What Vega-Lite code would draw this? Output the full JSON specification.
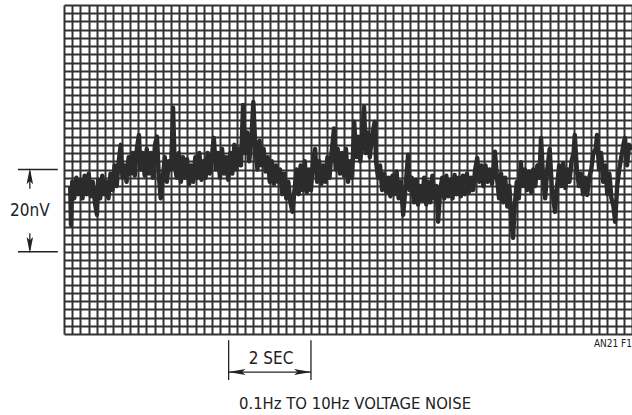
{
  "$schema": "https://vega.github.io/schema/vega-lite/v6.json",
  "width": 568,
  "height": 329,
  "autosize": "none",
  "padding": {"left": 64, "top": 5, "right": 0, "bottom": 81},
  "background": "white",
  "config": {"view": {"stroke": null}},
  "datasets": {
    "trace": [
      {"t":0.15,"v":36},{"t":0.17,"v":26.5},{"t":0.2,"v":37},{"t":0.25,"v":33},{"t":0.3,"v":38},{"t":0.35,"v":34},{"t":0.4,"v":37.5},{"t":0.45,"v":33},{"t":0.5,"v":38.5},{"t":0.55,"v":34},{"t":0.6,"v":39},{"t":0.65,"v":33.5},{"t":0.7,"v":37},{"t":0.75,"v":32},{"t":0.8,"v":29},{"t":0.83,"v":37.5},{"t":0.88,"v":33},{"t":0.93,"v":38.5},{"t":0.98,"v":34},{"t":1.03,"v":37},{"t":1.08,"v":33},{"t":1.13,"v":39},{"t":1.18,"v":35},{"t":1.23,"v":41},{"t":1.28,"v":36},{"t":1.33,"v":42},{"t":1.38,"v":46},{"t":1.42,"v":38},{"t":1.47,"v":41},{"t":1.52,"v":37},{"t":1.57,"v":43},{"t":1.62,"v":39},{"t":1.67,"v":44},{"t":1.72,"v":38.5},{"t":1.77,"v":45},{"t":1.82,"v":48.4},{"t":1.86,"v":40},{"t":1.91,"v":44},{"t":1.96,"v":38.5},{"t":2.01,"v":45},{"t":2.06,"v":39},{"t":2.11,"v":44},{"t":2.16,"v":38},{"t":2.21,"v":46},{"t":2.26,"v":48},{"t":2.3,"v":39},{"t":2.35,"v":33},{"t":2.4,"v":38},{"t":2.45,"v":43},{"t":2.5,"v":37},{"t":2.55,"v":42},{"t":2.6,"v":40},{"t":2.65,"v":55},{"t":2.69,"v":41},{"t":2.74,"v":38},{"t":2.79,"v":44},{"t":2.84,"v":37},{"t":2.89,"v":43},{"t":2.94,"v":38},{"t":2.99,"v":42.5},{"t":3.04,"v":36.5},{"t":3.09,"v":41},{"t":3.14,"v":37},{"t":3.19,"v":43},{"t":3.24,"v":38},{"t":3.29,"v":44},{"t":3.34,"v":37.5},{"t":3.39,"v":42},{"t":3.44,"v":38},{"t":3.49,"v":44},{"t":3.54,"v":39},{"t":3.59,"v":43},{"t":3.64,"v":47.7},{"t":3.69,"v":40},{"t":3.74,"v":44},{"t":3.79,"v":38},{"t":3.84,"v":45},{"t":3.89,"v":39},{"t":3.94,"v":43},{"t":3.99,"v":37.5},{"t":4.04,"v":44},{"t":4.09,"v":39},{"t":4.14,"v":46},{"t":4.19,"v":40},{"t":4.24,"v":45},{"t":4.3,"v":41},{"t":4.35,"v":55.7},{"t":4.4,"v":44},{"t":4.45,"v":49},{"t":4.5,"v":42},{"t":4.55,"v":47},{"t":4.6,"v":56.4},{"t":4.65,"v":45},{"t":4.7,"v":40},{"t":4.75,"v":47},{"t":4.8,"v":41},{"t":4.85,"v":45},{"t":4.9,"v":39.5},{"t":4.95,"v":43},{"t":5.0,"v":37},{"t":5.05,"v":42},{"t":5.1,"v":36.5},{"t":5.15,"v":41},{"t":5.2,"v":37},{"t":5.25,"v":40},{"t":5.3,"v":34},{"t":5.35,"v":39},{"t":5.4,"v":33},{"t":5.45,"v":37},{"t":5.5,"v":32},{"t":5.55,"v":29.7},{"t":5.6,"v":35},{"t":5.65,"v":40},{"t":5.7,"v":34},{"t":5.75,"v":41},{"t":5.8,"v":35},{"t":5.85,"v":42},{"t":5.9,"v":34.5},{"t":5.95,"v":40},{"t":6.0,"v":35},{"t":6.05,"v":42},{"t":6.1,"v":45},{"t":6.15,"v":37},{"t":6.2,"v":42},{"t":6.25,"v":36.5},{"t":6.3,"v":41},{"t":6.35,"v":37},{"t":6.4,"v":43},{"t":6.45,"v":38},{"t":6.5,"v":44},{"t":6.56,"v":50},{"t":6.6,"v":40},{"t":6.65,"v":45},{"t":6.7,"v":39},{"t":6.75,"v":44},{"t":6.8,"v":38.5},{"t":6.85,"v":45},{"t":6.9,"v":37},{"t":6.95,"v":42},{"t":7.0,"v":38},{"t":7.05,"v":51.6},{"t":7.1,"v":43},{"t":7.15,"v":48},{"t":7.2,"v":42},{"t":7.25,"v":49},{"t":7.29,"v":55.2},{"t":7.33,"v":44},{"t":7.38,"v":49},{"t":7.43,"v":43},{"t":7.48,"v":48},{"t":7.55,"v":51.6},{"t":7.58,"v":42},{"t":7.63,"v":38},{"t":7.68,"v":41},{"t":7.73,"v":35},{"t":7.78,"v":39},{"t":7.83,"v":34.5},{"t":7.88,"v":38},{"t":7.93,"v":33.5},{"t":7.98,"v":38.5},{"t":8.03,"v":34},{"t":8.08,"v":39.5},{"t":8.13,"v":33},{"t":8.18,"v":37},{"t":8.24,"v":29},{"t":8.3,"v":36},{"t":8.36,"v":43.6},{"t":8.4,"v":35},{"t":8.45,"v":38},{"t":8.5,"v":32},{"t":8.55,"v":37.5},{"t":8.6,"v":31.5},{"t":8.65,"v":36},{"t":8.7,"v":32.5},{"t":8.75,"v":38},{"t":8.8,"v":31.5},{"t":8.85,"v":37},{"t":8.9,"v":32},{"t":8.95,"v":38.5},{"t":9.0,"v":33},{"t":9.05,"v":36},{"t":9.09,"v":27.3},{"t":9.14,"v":35},{"t":9.19,"v":38},{"t":9.24,"v":33},{"t":9.29,"v":38.5},{"t":9.34,"v":33.5},{"t":9.39,"v":37.5},{"t":9.44,"v":33},{"t":9.49,"v":38.7},{"t":9.54,"v":34},{"t":9.59,"v":38},{"t":9.64,"v":33.5},{"t":9.69,"v":38.5},{"t":9.74,"v":34},{"t":9.79,"v":39},{"t":9.84,"v":34.5},{"t":9.89,"v":38},{"t":9.94,"v":35},{"t":9.99,"v":40},{"t":10.04,"v":42.8},{"t":10.09,"v":37},{"t":10.14,"v":41},{"t":10.19,"v":36},{"t":10.24,"v":41},{"t":10.29,"v":37},{"t":10.34,"v":40},{"t":10.4,"v":36.5},{"t":10.47,"v":44.3},{"t":10.52,"v":38},{"t":10.57,"v":33},{"t":10.62,"v":39},{"t":10.67,"v":32},{"t":10.72,"v":38},{"t":10.77,"v":31},{"t":10.82,"v":36},{"t":10.87,"v":27},{"t":10.91,"v":23.4},{"t":10.95,"v":31},{"t":11.0,"v":37},{"t":11.05,"v":33},{"t":11.1,"v":41.8},{"t":11.15,"v":36},{"t":11.2,"v":40},{"t":11.25,"v":35},{"t":11.3,"v":39.5},{"t":11.35,"v":34.5},{"t":11.4,"v":40},{"t":11.45,"v":36},{"t":11.5,"v":41},{"t":11.55,"v":38},{"t":11.59,"v":47.7},{"t":11.64,"v":38},{"t":11.69,"v":33},{"t":11.74,"v":40},{"t":11.8,"v":45},{"t":11.85,"v":36},{"t":11.9,"v":32},{"t":11.93,"v":29.7},{"t":11.98,"v":36},{"t":12.03,"v":41},{"t":12.08,"v":36},{"t":12.13,"v":41.5},{"t":12.18,"v":35.5},{"t":12.23,"v":40},{"t":12.28,"v":37},{"t":12.33,"v":42},{"t":12.38,"v":44},{"t":12.41,"v":48.4},{"t":12.46,"v":40},{"t":12.51,"v":36},{"t":12.56,"v":39},{"t":12.61,"v":34},{"t":12.66,"v":38},{"t":12.71,"v":33.8},{"t":12.76,"v":38},{"t":12.81,"v":40},{"t":12.86,"v":44},{"t":12.92,"v":45},{"t":12.95,"v":48.4},{"t":13.0,"v":40},{"t":13.05,"v":44},{"t":13.1,"v":37},{"t":13.15,"v":41},{"t":13.2,"v":34},{"t":13.25,"v":39},{"t":13.3,"v":33},{"t":13.35,"v":31},{"t":13.39,"v":27.3},{"t":13.44,"v":36},{"t":13.49,"v":40},{"t":13.54,"v":43},{"t":13.59,"v":46},{"t":13.63,"v":47.7},{"t":13.68,"v":41},{"t":13.73,"v":46},{"t":13.8,"v":44.8}
    ],
    "hrules": [
      {"x": -1.12, "x2": -0.15, "y": 40},
      {"x": -1.12, "x2": -0.15, "y": 20},
      {"x": 4.0, "x2": 6.0, "y": -9.25}
    ],
    "vrules": [
      {"x": -0.83, "y": 35.3, "y2": 39.5},
      {"x": -0.83, "y": 24.5, "y2": 20.5},
      {"x": 4.0, "y": -1.5, "y2": -11.2},
      {"x": 6.0, "y": -1.5, "y2": -11.2}
    ],
    "heads": [
      {"x": -0.83, "y": 38.4, "dir": "up"},
      {"x": -0.83, "y": 21.6, "dir": "down"},
      {"x": 4.2, "y": -9.25, "dir": "left"},
      {"x": 5.8, "y": -9.25, "dir": "right"}
    ],
    "labels": [
      {"x": -0.83, "y": 29.8, "text": "20nV", "size": 17, "align": "center"},
      {"x": 5.03, "y": -6.2, "text": "2 SEC", "size": 17, "align": "center"},
      {"x": 7.07, "y": -17, "text": "0.1Hz TO 10Hz VOLTAGE NOISE", "size": 16.5, "align": "center"},
      {"x": 13.8, "y": -2.4, "text": "AN21 F1", "size": 10, "align": "right"}
    ]
  },
  "layer": [
    {
      "data": {"name": "trace"},
      "mark": {"type": "line", "color": "#2b2b2b", "strokeWidth": 4.4, "strokeJoin": "round"},
      "encoding": {
        "x": {"field": "t", "type": "quantitative",
              "scale": {"domain": [0, 13.8], "nice": false, "zero": false},
              "axis": {"title": null, "labels": false, "ticks": false, "domain": false, "tickCount": 200,
                       "grid": true, "gridColor": "#333333", "gridWidth": 2, "gridOpacity": 1,
                       "values": [0,0.2,0.4,0.6,0.8,1,1.2,1.4,1.6,1.8,2,2.2,2.4,2.6,2.8,3,3.2,3.4,3.6,3.8,4,4.2,4.4,4.6,4.8,5,5.2,5.4,5.6,5.8,6,6.2,6.4,6.6,6.8,7,7.2,7.4,7.6,7.8,8,8.2,8.4,8.6,8.8,9,9.2,9.4,9.6,9.8,10,10.2,10.4,10.6,10.8,11,11.2,11.4,11.6,11.8,12,12.2,12.4,12.6,12.8,13,13.2,13.4,13.6,13.8]}},
        "y": {"field": "v", "type": "quantitative",
              "scale": {"domain": [0, 80], "nice": false, "zero": false},
              "axis": {"title": null, "labels": false, "ticks": false, "domain": false, "tickCount": 200,
                       "grid": true, "gridColor": "#333333", "gridWidth": 2, "gridOpacity": 1,
                       "values": [0,2,4,6,8,10,12,14,16,18,20,22,24,26,28,30,32,34,36,38,40,42,44,46,48,50,52,54,56,58,60,62,64,66,68,70,72,74,76,78,80]}}
      }
    },
    {
      "data": {"name": "hrules"},
      "mark": {"type": "rule", "color": "#222222", "strokeWidth": 1.3},
      "encoding": {
        "x": {"field": "x", "type": "quantitative"},
        "x2": {"field": "x2"},
        "y": {"field": "y", "type": "quantitative"}
      }
    },
    {
      "data": {"name": "vrules"},
      "mark": {"type": "rule", "color": "#222222", "strokeWidth": 1.3},
      "encoding": {
        "x": {"field": "x", "type": "quantitative"},
        "y": {"field": "y", "type": "quantitative"},
        "y2": {"field": "y2"}
      }
    },
    {
      "data": {"name": "heads"},
      "transform": [{"filter": "datum.dir == 'up'"}],
      "mark": {"type": "point", "filled": true, "color": "#222222", "opacity": 1, "size": 260, "shape": "M0,-1L-0.4,1L0,0.6L0.4,1Z"},
      "encoding": {"x": {"field": "x", "type": "quantitative"}, "y": {"field": "y", "type": "quantitative"}}
    },
    {
      "data": {"name": "heads"},
      "transform": [{"filter": "datum.dir == 'down'"}],
      "mark": {"type": "point", "filled": true, "color": "#222222", "opacity": 1, "size": 260, "shape": "M0,1L-0.4,-1L0,-0.6L0.4,-1Z"},
      "encoding": {"x": {"field": "x", "type": "quantitative"}, "y": {"field": "y", "type": "quantitative"}}
    },
    {
      "data": {"name": "heads"},
      "transform": [{"filter": "datum.dir == 'left'"}],
      "mark": {"type": "point", "filled": true, "color": "#222222", "opacity": 1, "size": 300, "shape": "M-1,0L1,-0.35L0.6,0L1,0.35Z"},
      "encoding": {"x": {"field": "x", "type": "quantitative"}, "y": {"field": "y", "type": "quantitative"}}
    },
    {
      "data": {"name": "heads"},
      "transform": [{"filter": "datum.dir == 'right'"}],
      "mark": {"type": "point", "filled": true, "color": "#222222", "opacity": 1, "size": 300, "shape": "M1,0L-1,-0.35L-0.6,0L-1,0.35Z"},
      "encoding": {"x": {"field": "x", "type": "quantitative"}, "y": {"field": "y", "type": "quantitative"}}
    },
    {
      "data": {"name": "labels"},
      "transform": [{"filter": "datum.align == 'center'"}],
      "mark": {"type": "text", "align": "center", "baseline": "middle", "color": "#222222", "font": "DejaVu Sans Condensed, sans-serif"},
      "encoding": {
        "x": {"field": "x", "type": "quantitative"},
        "y": {"field": "y", "type": "quantitative"},
        "text": {"field": "text"},
        "size": {"field": "size", "type": "quantitative", "scale": null}
      }
    },
    {
      "data": {"name": "labels"},
      "transform": [{"filter": "datum.align == 'right'"}],
      "mark": {"type": "text", "align": "right", "baseline": "middle", "color": "#222222", "font": "DejaVu Sans Condensed, sans-serif"},
      "encoding": {
        "x": {"field": "x", "type": "quantitative"},
        "y": {"field": "y", "type": "quantitative"},
        "text": {"field": "text"},
        "size": {"field": "size", "type": "quantitative", "scale": null}
      }
    }
  ]
}
